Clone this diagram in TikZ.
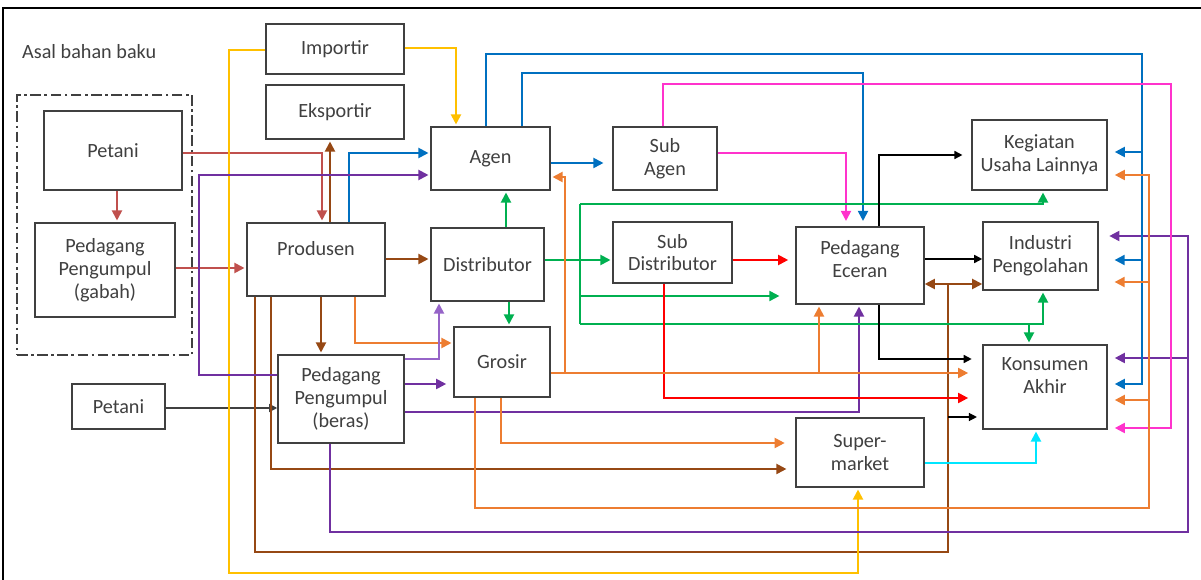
\documentclass[tikz,border=0pt]{standalone}
\usepackage{fontspec}
\setmainfont{Carlito}
\usetikzlibrary{arrows.meta}
\definecolor{boxgray}{RGB}{64,64,64}
\definecolor{cRedBr}{RGB}{192,80,77}
\definecolor{cBrown}{RGB}{150,72,20}
\definecolor{cOrange}{RGB}{237,125,49}
\definecolor{cGold}{RGB}{255,192,0}
\definecolor{cBlue}{RGB}{0,112,192}
\definecolor{cPurple}{RGB}{112,48,160}
\definecolor{cLilac}{RGB}{150,100,200}
\definecolor{cGreen}{RGB}{0,176,80}
\definecolor{cPink}{RGB}{255,51,204}
\definecolor{cRed}{RGB}{255,0,0}
\definecolor{cCyan}{RGB}{0,230,255}
\tikzset{
  box/.style      ={draw=boxgray, line width=0.9pt, fill=white, text=boxgray, align=center,
                    inner sep=1pt, font=\fontsize{11.5}{13}\selectfont},
  asalframe/.style={draw=boxgray, line width=0.9pt,
                    dash pattern=on 6pt off 2pt on 1.5pt off 2pt},
  arr/.style      ={-{Triangle[length=2mm, width=2mm]}, line width=1.1pt, shorten >=1pt},
  dblarr/.style   ={{Triangle[length=2mm, width=2mm]}-{Triangle[length=2mm, width=2mm]},
                    line width=1.1pt},
  ln/.style       ={line width=1.1pt},
  thinarr/.style  ={-{Triangle[length=1.6mm, width=1.6mm]}, line width=0.7pt},
}

\begin{document}
\begin{tikzpicture}[x=0.02cm, y=-0.02cm]
  \useasboundingbox (0,0) rectangle (1201,580);
  \draw[line width=1.2pt] (3,580) -- (3,8) -- (1201,8);

  % origin of raw material
  \node[anchor=west, text=boxgray, font=\fontsize{11.5}{13}\selectfont] (asal) at (16,52) {Asal bahan baku};
  \node[asalframe, minimum width=3.5cm, minimum height=5.2cm] (asalbox) at (104.5,225) {};
  \node[box, minimum width=2.76cm, minimum height=1.58cm] (petaniA)  at (113,150.5) {Petani};
  \node[box, minimum width=2.8cm,  minimum height=1.88cm] (ppgabah)  at (105,270)   {Pedagang\\Pengumpul\\(gabah)};
  \node[box, minimum width=1.86cm, minimum height=0.9cm]  (petaniB)  at (118.5,406.5) {Petani};

  \node[box, minimum width=2.76cm, minimum height=1.0cm]  (importir) at (335,49)    {Importir};
  \node[box, minimum width=2.76cm, minimum height=1.08cm] (eksportir) at (335,112)  {Eksportir};
  \node[box, minimum width=2.76cm, minimum height=1.46cm] (produsen) at (316,259.5) {Produsen\\ \mbox{}};
  \node[box, minimum width=2.52cm, minimum height=1.76cm] (ppberas)  at (341,399)   {Pedagang\\Pengumpul\\(beras)};

  \node[box, minimum width=2.38cm, minimum height=1.26cm] (agen)     at (490.5,158.5) {Agen};
  \node[box, minimum width=2.26cm, minimum height=1.46cm] (distributor) at (487.5,264.5) {Distributor};
  \node[box, minimum width=1.92cm, minimum height=1.4cm]  (grosir)   at (502,362)   {Grosir};
  \node[box, minimum width=2.08cm, minimum height=1.26cm] (subagen)  at (665,158.5) {Sub\\Agen};
  \node[box, minimum width=2.38cm, minimum height=1.22cm] (subdist)  at (672.5,252.5) {Sub\\Distributor};

  \node[box, minimum width=2.56cm, minimum height=1.54cm] (eceran)   at (860,265.5) {Pedagang\\Eceran\\[-6pt]\mbox{}};
  \node[box, minimum width=2.56cm, minimum height=1.38cm] (supermarket) at (860,452.5) {Super-\\market};
  \node[box, minimum width=2.7cm,  minimum height=1.4cm]  (kegiatan) at (1039.5,155) {Kegiatan\\Usaha Lainnya};
  \node[box, minimum width=2.3cm,  minimum height=1.36cm] (industri) at (1040.5,256) {Industri\\Pengolahan};
  \node[box, minimum width=2.48cm, minimum height=1.68cm] (konsumen) at (1045,387)  {Konsumen\\Akhir\\ \mbox{}};

  % junctions of the long trunks
  \coordinate (blueR) at (1142,54);
  \coordinate (pinkR) at (1171,84);
  \coordinate (gTop)  at (580,204);
  \coordinate (gBot)  at (580,324);
  \coordinate (oG)    at (565,373);
  \coordinate (oR)    at (1149,508);
  \coordinate (pR)    at (1188,532);
  \coordinate (brR)   at (948,284);

  % petani, pengumpul, produsen
  \draw[arr, cRedBr] (117,0 |- petaniA.south) -- (117,0 |- ppgabah.north);
  \draw[arr, cRedBr] (petaniA.east |- 0,153) -| (322,0 |- produsen.north);
  \draw[arr, cRedBr] (ppgabah.east |- 0,268) -- (produsen.west |- 0,268);
  \draw[thinarr, boxgray] (petaniB.east |- 0,408) -- (ppberas.west |- 0,408);

  \draw[arr, cBrown] (330,0 |- produsen.north) -- (330,0 |- eksportir.south);
  \draw[arr, cBlue] (349,0 |- produsen.north) |- (agen.west |- 0,153);
  \draw[arr, cBrown] (produsen.east |- 0,259) -- (distributor.west |- 0,259);
  \draw[arr, cBrown] (321,0 |- produsen.south) -- (321,0 |- ppberas.north);
  \draw[arr, cOrange] (355,0 |- produsen.south) |- (grosir.west |- 0,343);
  \draw[arr, cBrown, shorten >=5pt] (271,0 |- produsen.south) |- (supermarket.west |- 0,469);
  \draw[ln, cBrown] (255,0 |- produsen.south) |- (brR |- 0,552) -- (brR);
  \draw[dblarr, cBrown] (eceran.east |- brR) -- (industri.west |- brR);
  \draw[thinarr, black, shorten >=3pt] (brR |- 0,417) -- (konsumen.west |- 0,417);

  % importir
  \draw[arr, cGold] (importir.east |- 0,48) -| (456,0 |- agen.north);
  \draw[arr, cGold] (importir.west |- 0,50) -| (229,573) -| (858,0 |- supermarket.south);

  % pedagang pengumpul (beras)
  \draw[arr, cPurple] (ppberas.west |- 0,375) -| (199,175) -- (agen.west |- 0,175);
  \draw[arr, cLilac] (ppberas.east |- 0,359) -| (439,0 |- distributor.south);
  \draw[arr, cPurple, shorten >=4pt] (ppberas.east |- 0,384) -- (grosir.west |- 0,384);
  \draw[arr, cPurple] (ppberas.east |- 0,412) -| (859,0 |- eceran.south);
  \draw[arr, cPurple, shorten >=6pt] (330,0 |- ppberas.south) |- (pR) |- (industri.east |- 0,236);
  \draw[arr, cPurple, shorten >=4pt] (pR |- 0,358) -- (konsumen.east |- 0,358);

  % agen
  \draw[arr, cBlue, shorten >=5pt] (agen.east |- 0,163) -- (subagen.west |- 0,163);
  \draw[arr, cBlue, shorten >=3pt] (522,0 |- agen.north) |- (863,73) -- (863,0 |- eceran.north);
  \draw[arr, cBlue, shorten >=4pt] (486,0 |- agen.north) |- (blueR) |- (konsumen.east |- 0,384);
  \draw[arr, cBlue, shorten >=4pt] (blueR |- 0,152) -- (kegiatan.east |- 0,152);
  \draw[arr, cBlue, shorten >=9pt] (blueR |- 0,260) -- (industri.east |- 0,260);

  % sub agen
  \draw[arr, cPink, shorten >=3pt] (subagen.east |- 0,153) -| (846,0 |- eceran.north);
  \draw[arr, cPink, shorten >=4pt] (663,0 |- subagen.north) |- (pinkR) |- (konsumen.east |- 0,428);

  % distributor
  \draw[arr, cGreen] (506,0 |- distributor.north) -- (506,0 |- agen.south);
  \draw[arr, cGreen] (distributor.east |- 0,260) -- (subdist.west |- 0,260);
  \draw[arr, cGreen] (509,0 |- distributor.south) -- (509,0 |- grosir.north);
  \draw[ln, cGreen] (gTop) -- (gBot);
  \draw[arr, cGreen] (gTop) -| (1043,0 |- kegiatan.south);
  \draw[arr, cGreen, shorten >=9pt] (gTop |- 0,296) -- (eceran.west |- 0,296);
  \draw[arr, cGreen] (gBot) -| (1043,0 |- industri.south);
  \draw[arr, cGreen] (1029,0 |- gBot) -- (1029,0 |- konsumen.north);

  % sub distributor
  \draw[arr, cRed, shorten >=4pt] (subdist.east |- 0,260) -- (eceran.west |- 0,260);
  \draw[arr, cRed, shorten >=8pt] (664,0 |- subdist.south) |- (konsumen.west |- 0,398);

  % grosir
  \draw[arr, cOrange] (grosir.east |- oG) -| (565,177) -- (agen.east |- 0,177);
  \draw[arr, cOrange, shorten >=8pt] (grosir.east |- oG) -- (konsumen.west |- oG);
  \draw[arr, cOrange] (819,0 |- oG) -- (819,0 |- eceran.south);
  \draw[arr, cOrange, shorten >=6pt] (501,0 |- grosir.south) |- (supermarket.west |- 0,443);
  \draw[arr, cOrange, shorten >=4pt] (475,0 |- grosir.south) |- (oR) |- (kegiatan.east |- 0,175);
  \draw[arr, cOrange, shorten >=9pt] (oR |- 0,282) -- (industri.east |- 0,282);
  \draw[arr, cOrange, shorten >=4pt] (oR |- 0,400) -- (konsumen.east |- 0,400);

  % pedagang eceran, supermarket
  \draw[thinarr, black, line width=0.9pt, shorten >=5pt] (879,0 |- eceran.north) |- (kegiatan.west |- 0,155);
  \draw[thinarr, black, line width=0.9pt] (eceran.east |- 0,259) -- (industri.west |- 0,259);
  \draw[thinarr, black, line width=0.9pt, shorten >=6pt] (879,0 |- eceran.south) |- (konsumen.west |- 0,359);
  \draw[arr, cCyan] (supermarket.east |- 0,463) -| (1036,0 |- konsumen.south);
\end{tikzpicture}
\end{document}
